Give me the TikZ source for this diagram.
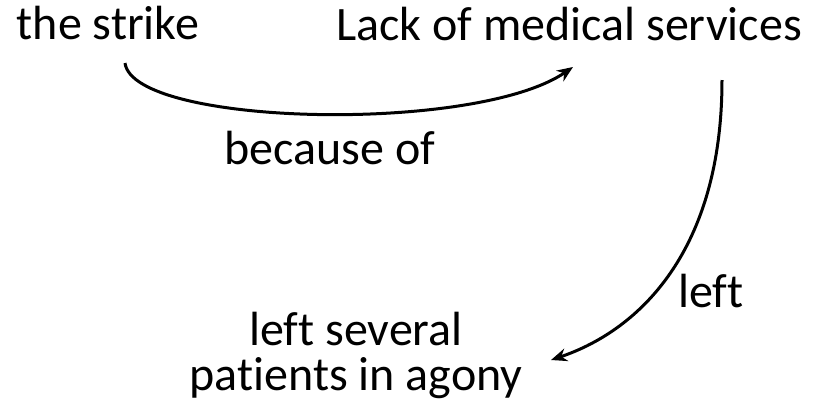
\documentclass[tikz,border=0pt]{standalone}
\usepackage{fontspec}
\setmainfont{Carlito}[Ligatures=NoCommon]
\usepackage{tikz}
\usetikzlibrary{arrows.meta}

\begin{document}
\begin{tikzpicture}[x=1pt, y=-1pt,
  lbl/.style={font=\fontsize{48}{45}\selectfont, inner sep=0pt, align=center, anchor=base},
  conn/.style={line width=3pt, -{Stealth[length=16pt, width=13pt]}}]
\useasboundingbox (0,0) rectangle (823,413);

% Labels
\node[lbl] (strike) at (108,39) {the strike};
\node[lbl] (lack) at (569,40) {Lack of medical services};
\node[lbl] (because) at (330,164) {because of};
\node[lbl] (leftlbl) at (711,307) {left};
\node[lbl] (agony) at (356,390) {left several\\patients in agony};

% Connector end points
\coordinate (s1) at (125,63);
\coordinate (e1) at (573,67);
\coordinate (s2) at (722,80);
\coordinate (e2) at (551,360);

% Arrows
\draw[conn] (s1) .. controls (133,126) and (475,134) .. (e1);
\draw[conn] (s2) .. controls (722,250) and (640,330) .. (e2);

\end{tikzpicture}
\end{document}
